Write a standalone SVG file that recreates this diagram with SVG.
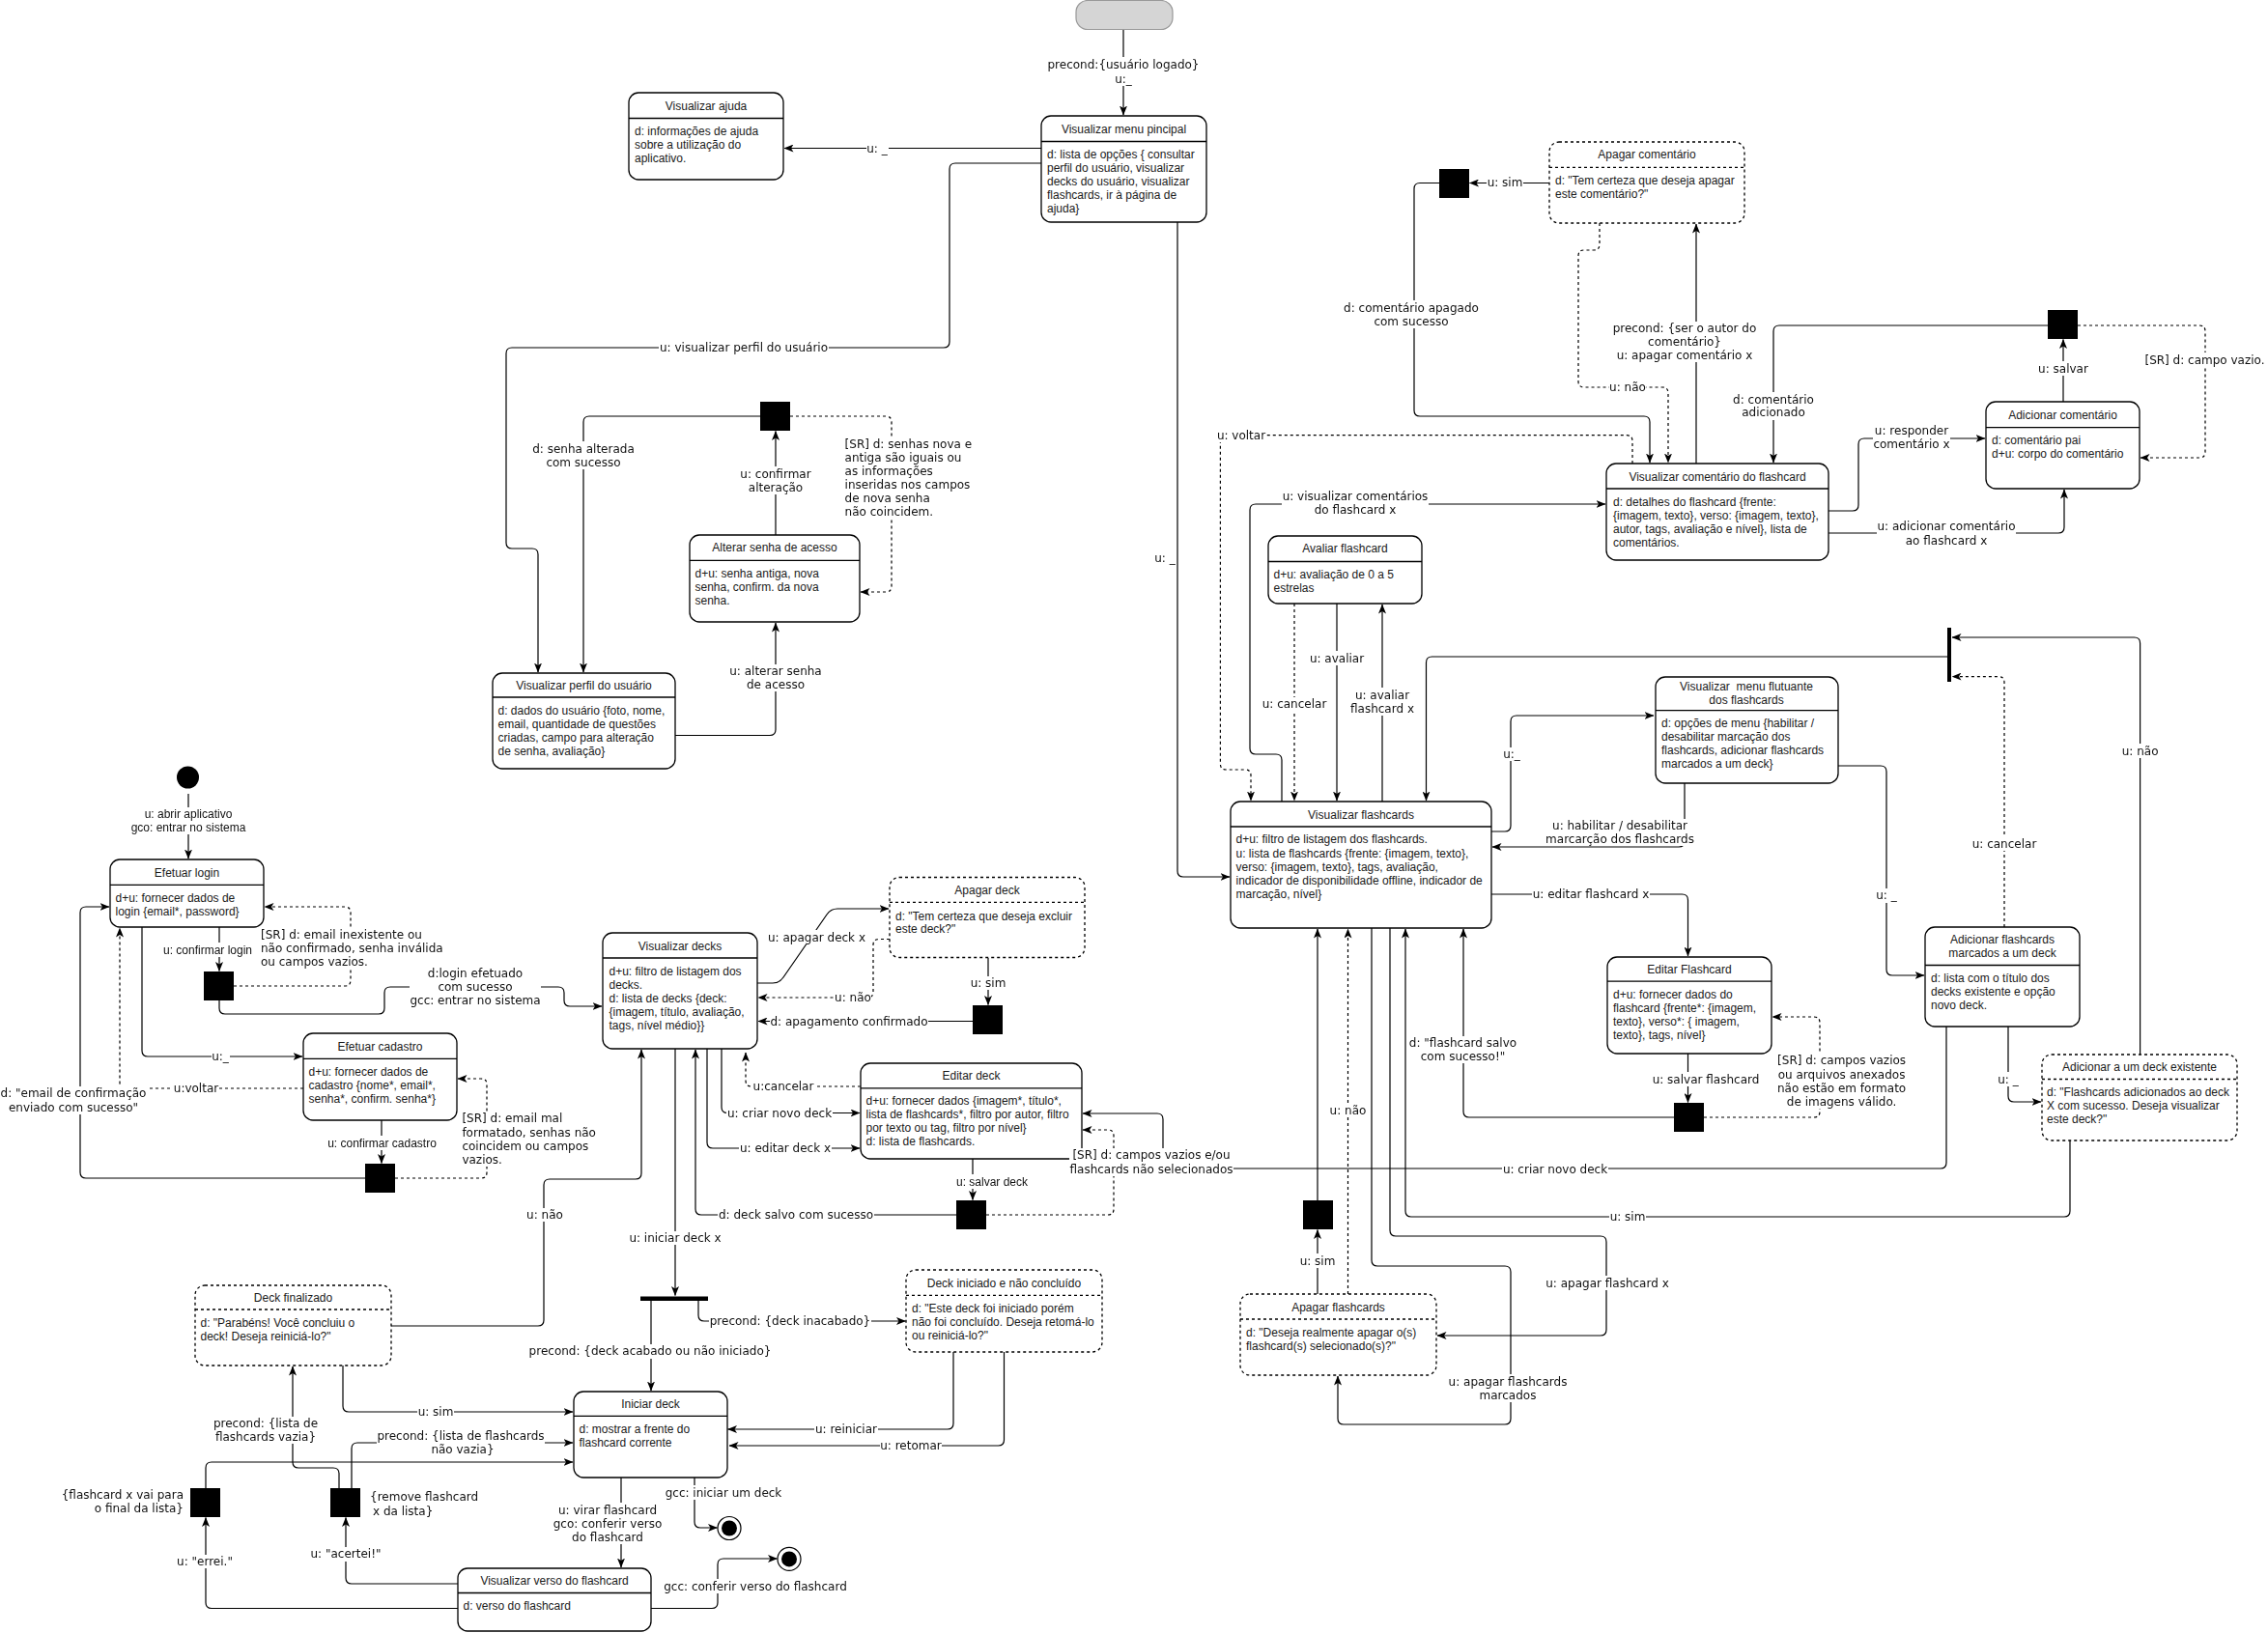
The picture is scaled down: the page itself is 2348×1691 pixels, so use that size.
<svg xmlns="http://www.w3.org/2000/svg" width="2348" height="1691" viewBox="0 0 2348 1691">
<defs>
<marker id="ar" viewBox="0 0 10 8" refX="9.5" refY="4" markerWidth="10" markerHeight="8" markerUnits="userSpaceOnUse" orient="auto"><path d="M0,0 L10,4 L0,8 L2.5,4 Z" fill="#000"/></marker>
<filter id="bg" x="0" y="0" width="1" height="1" color-interpolation-filters="sRGB"><feFlood flood-color="#fff"/><feComposite in="SourceGraphic"/></filter>
<style>
.b{fill:#fff;stroke:#000;stroke-width:1.3}
.bd{fill:#fff;stroke:#000;stroke-width:1.3;stroke-dasharray:3 3}
.h{stroke:#000;stroke-width:1.3}
.hd{stroke:#000;stroke-width:1.3;stroke-dasharray:3 3}
.tt{font-family:"Liberation Sans",Arial,sans-serif;font-size:12px;fill:#1a1a1a;text-anchor:middle;dominant-baseline:central}
.tb{font-family:"Liberation Sans",Arial,sans-serif;font-size:12px;fill:#1a1a1a;dominant-baseline:central}
.e{fill:none;stroke:#000;stroke-width:1.2;marker-end:url(#ar)}
.ed{fill:none;stroke:#000;stroke-width:1.2;stroke-dasharray:3 3;marker-end:url(#ar)}
.l{font-family:"DejaVu Sans",Verdana,sans-serif;font-size:12px;fill:#111;text-anchor:middle;dominant-baseline:central;filter:url(#bg)}
.la{font-family:"Liberation Sans",Arial,sans-serif;font-size:12px;fill:#111;text-anchor:middle;dominant-baseline:central;filter:url(#bg)}
.ls{text-anchor:start}
.le{text-anchor:end}
.sq{fill:#000}
</style>
</defs>
<rect width="2348" height="1691" fill="#fff"/>

<g id="connectors">
<path class="e" d="M1163,30 V119"/>
<path class="e" d="M1078,153.5 H812"/>
<path class="e" d="M1078,169 H989 Q983,169 983,175 V354 Q983,360 977,360 H530 Q524,360 524,366 V562 Q524,568 530,568 H551 Q557,568 557,574 V696"/>
<path class="e" d="M699,761.5 H797 Q803,761.5 803,755.5 V645"/>
<path class="e" d="M803,554 V446.5"/>
<path class="e" d="M787,431 H610 Q604,431 604,437 V696"/>
<path class="ed" d="M818,431 H917 Q923,431 923,437 V607 Q923,613 917,613 H891"/>
<path class="e" d="M195,822 V889"/>
<path class="e" d="M227,960 V1005.5"/>
<path class="ed" d="M242,1021 H357 Q363,1021 363,1015 V945 Q363,939 357,939 H274"/>
<path class="e" d="M227,1036 V1044 Q227,1050 233,1050 H392 Q398,1050 398,1044 V1028 Q398,1022 404,1022 H578 Q584,1022 584,1028 V1036 Q584,1042 590,1042 H623"/>
<path class="e" d="M147,960 V1088 Q147,1094 153,1094 H313"/>
<path class="ed" d="M314,1127 H130 Q124,1127 124,1121 V961"/>
<path class="e" d="M395,1160 V1204.5"/>
<path class="ed" d="M409,1220 H498 Q504,1220 504,1214 V1123 Q504,1117 498,1117 H474"/>
<path class="e" d="M378,1220 H89 Q83,1220 83,1214 V945 Q83,939 89,939 H113"/>
<path class="e" d="M405,1373 H557 Q563,1373 563,1367 V1227 Q563,1221 569,1221 H658 Q664,1221 664,1215 V1087"/>
<path class="e" d="M355,1414 V1456 Q355,1462 361,1462 H593"/>
<path class="e" d="M364,1541 V1500 Q364,1494 370,1494 H593"/>
<path class="e" d="M351,1541 V1526 Q351,1520 345,1520 H309 Q303,1520 303,1514 V1415"/>
<path class="e" d="M213,1541 V1520 Q213,1514 219,1514 H593"/>
<path class="e" d="M474,1665.5 H219 Q213,1665.5 213,1659.5 V1571.5"/>
<path class="e" d="M474,1640 H364 Q358,1640 358,1634 V1571.5"/>
<path class="e" d="M643,1530 V1623"/>
<path class="e" d="M719,1530 V1576 Q719,1582 725,1582 H742.5"/>
<path class="e" d="M674,1665.5 H737 Q743,1665.5 743,1659.5 V1620 Q743,1614 749,1614 H804.5"/>
<path class="e" d="M699,1086 V1341.5"/>
<path class="e" d="M674,1347 V1440"/>
<path class="e" d="M723,1347 V1362 Q723,1368 729,1368 H937.5"/>
<path class="e" d="M987,1400 V1474 Q987,1480 981,1480 H753.5"/>
<path class="e" d="M1039.5,1400 V1491 Q1039.5,1497 1033.5,1497 H755"/>
<path class="e" d="M784,1018 H800 Q807,1018 811,1012 L856,947 Q860,941 867,941 H920"/>
<path class="ed" d="M921,972.5 H910 Q904,972.5 904,978.5 V1027 Q904,1033 898,1033 H785"/>
<path class="e" d="M1023,992 V1040.5"/>
<path class="e" d="M1007,1057.5 H785"/>
<path class="e" d="M747,1086 V1146.5 Q747,1152.5 753,1152.5 H890"/>
<path class="e" d="M732,1086 V1183 Q732,1189 738,1189 H890"/>
<path class="ed" d="M891,1125 H778 Q772,1125 772,1119 V1090"/>
<path class="e" d="M1007,1200 V1242.5"/>
<path class="e" d="M990,1258 H726 Q720,1258 720,1252 V1087"/>
<path class="ed" d="M1021,1258 H1147 Q1153,1258 1153,1252 V1176 Q1153,1170 1147,1170 H1121"/>
<path class="e" d="M2015,1063 V1204 Q2015,1210 2009,1210 H1210 Q1204,1210 1204,1204 V1159 Q1204,1153 1198,1153 H1121"/>
<path class="e" d="M1219,230 V902 Q1219,908 1225,908 H1273"/>
<path class="ed" d="M1690,480 V456.7 Q1690,450.7 1684,450.7 H1269.4 Q1263.4,450.7 1263.4,456.7 V791 Q1263.4,797 1269.4,797 H1289 Q1295,797 1295,803 V829"/>
<path class="e" d="M1327,830 V787 Q1327,781 1321,781 H1300 Q1294,781 1294,775 V528 Q1294,522 1300,522 H1662"/>
<path class="ed" d="M1340,625 V829"/>
<path class="e" d="M1384,625 V829"/>
<path class="e" d="M1431,830 V626"/>
<path class="e" d="M1544,861 H1558 Q1564,861 1564,855 V747 Q1564,741 1570,741 H1712"/>
<path class="e" d="M1744,811 V871 Q1744,877 1738,877 H1545"/>
<path class="e" d="M1544,926 H1741.5 Q1747.5,926 1747.5,932 V990"/>
<path class="e" d="M1747.5,1091 V1141.5"/>
<path class="e" d="M1733,1157 H1521 Q1515,1157 1515,1151 V962"/>
<path class="ed" d="M1764,1157 H1878 Q1884,1157 1884,1151 V1059 Q1884,1053 1878,1053 H1835"/>
<path class="e" d="M1903,793 H1947 Q1953,793 1953,799 V1004 Q1953,1010 1959,1010 H1992"/>
<path class="e" d="M2016,680 H1482.5 Q1476.5,680 1476.5,686 V829"/>
<path class="e" d="M2215.6,1092 V666 Q2215.6,660 2209.6,660 H2021"/>
<path class="ed" d="M2075,960 V706.6 Q2075,700.6 2069,700.6 H2021"/>
<path class="e" d="M2079,1063 V1135 Q2079,1141 2085,1141 H2113"/>
<path class="e" d="M2143,1181 V1254 Q2143,1260 2137,1260 H1461 Q1455,1260 1455,1254 V962"/>
<path class="e" d="M1420,961 V1305 Q1420,1311 1426,1311 H1558 Q1564,1311 1564,1317 V1469 Q1564,1475 1558,1475 H1391 Q1385,1475 1385,1469 V1425"/>
<path class="e" d="M1439,961 V1274 Q1439,1280 1445,1280 H1657 Q1663,1280 1663,1286 V1377 Q1663,1383 1657,1383 H1488"/>
<path class="e" d="M1364,1340 V1273.5"/>
<path class="e" d="M1364,1243 V962"/>
<path class="ed" d="M1395.5,1340 V962"/>
<path class="e" d="M1604,189.5 H1521.5"/>
<path class="e" d="M1490,189.5 H1470 Q1464,189.5 1464,195.5 V425 Q1464,431 1470,431 H1702 Q1708,431 1708,437 V479"/>
<path class="ed" d="M1656,231 V253 Q1656,259 1650,259 H1640 Q1634,259 1634,265 V395 Q1634,401 1640,401 H1721 Q1727,401 1727,407 V479"/>
<path class="e" d="M1756,480 V232"/>
<path class="e" d="M2136,416 V351.5"/>
<path class="e" d="M2120,337 H1842 Q1836,337 1836,343 V479"/>
<path class="ed" d="M2151,337 H2277 Q2283,337 2283,343 V468 Q2283,474 2277,474 H2216"/>
<path class="e" d="M1893,529 H1918 Q1924,529 1924,523 V460 Q1924,454 1930,454 H2055"/>
<path class="e" d="M1893,552 H2131 Q2137,552 2137,546 V507"/>
</g>

<g id="n-start"><rect x="1114" y="0.5" width="100" height="30" rx="12" fill="#d5d5d5" stroke="#999" stroke-width="1.2"/></g>

<g id="n-menu"><rect class="b" x="1078" y="120" width="171" height="110" rx="10"/><line class="h" x1="1078" y1="146.5" x2="1249" y2="146.5"/><text class="tt" x="1163.5" y="133.5">Visualizar menu pincipal</text><text class="tb"><tspan x="1084" y="160">d: lista de opções { consultar</tspan><tspan x="1084" y="174">perfil do usuário, visualizar</tspan><tspan x="1084" y="188">decks do usuário, visualizar</tspan><tspan x="1084" y="202">flashcards, ir à página de</tspan><tspan x="1084" y="216">ajuda}</tspan></text></g>

<g id="n-ajuda"><rect class="b" x="651" y="96" width="160" height="90" rx="10"/><line class="h" x1="651" y1="122.5" x2="811" y2="122.5"/><text class="tt" x="731" y="109.5">Visualizar ajuda</text><text class="tb"><tspan x="657" y="135.5">d: informações de ajuda</tspan><tspan x="657" y="149.5">sobre a utilização do</tspan><tspan x="657" y="163.5">aplicativo.</tspan></text></g>

<g id="n-perfil"><rect class="b" x="510" y="697" width="189" height="99" rx="10"/><line class="h" x1="510" y1="722" x2="699" y2="722"/><text class="tt" x="604.5" y="709.8">Visualizar perfil do usuário</text><text class="tb"><tspan x="515.5" y="735.7">d: dados do usuário {foto, nome,</tspan><tspan x="515.5" y="749.8">email, quantidade de questões</tspan><tspan x="515.5" y="763.8">criadas, campo para alteração</tspan><tspan x="515.5" y="777.9">de senha, avaliação}</tspan></text></g>

<g id="n-alterar-senha"><rect class="b" x="714" y="554" width="176" height="90" rx="10"/><line class="h" x1="714" y1="580.3" x2="890" y2="580.3"/><text class="tt" x="802" y="567">Alterar senha de acesso</text><text class="tb"><tspan x="719.5" y="594">d+u: senha antiga, nova</tspan><tspan x="719.5" y="608">senha, confirm. da nova</tspan><tspan x="719.5" y="622">senha.</tspan></text></g>

<g id="s-senha"><rect class="sq" x="787" y="416" width="31" height="30"/></g>

<g id="n-inicial"><circle cx="194.5" cy="805" r="11.5" fill="#000"/></g>

<g id="n-login"><rect class="b" x="114" y="890" width="159" height="70" rx="10"/><line class="h" x1="114" y1="916.3" x2="273" y2="916.3"/><text class="tt" x="193.5" y="903.7">Efetuar login</text><text class="tb"><tspan x="119.5" y="930">d+u: fornecer dados de</tspan><tspan x="119.5" y="944">login {email*, password}</tspan></text></g>

<g id="s-login"><rect class="sq" x="211" y="1006" width="31" height="30"/></g>

<g id="n-cadastro"><rect class="b" x="314" y="1070" width="159" height="90" rx="10"/><line class="h" x1="314" y1="1096.4" x2="473" y2="1096.4"/><text class="tt" x="393.5" y="1083.9">Efetuar cadastro</text><text class="tb"><tspan x="319.5" y="1110">d+u: fornecer dados de</tspan><tspan x="319.5" y="1124">cadastro {nome*, email*,</tspan><tspan x="319.5" y="1138">senha*, confirm. senha*}</tspan></text></g>

<g id="s-cadastro"><rect class="sq" x="378" y="1205" width="31" height="30"/></g>

<g id="n-decks"><rect class="b" x="624" y="966" width="160" height="120" rx="10"/><line class="h" x1="624" y1="992" x2="784" y2="992"/><text class="tt" x="704" y="979.5">Visualizar decks</text><text class="tb"><tspan x="630.5" y="1005.8">d+u: filtro de listagem dos</tspan><tspan x="630.5" y="1019.9">decks.</tspan><tspan x="630.5" y="1034">d: lista de decks {deck:</tspan><tspan x="630.5" y="1048">{imagem, título, avaliação,</tspan><tspan x="630.5" y="1062">tags, nível médio}}</tspan></text></g>

<g id="n-apagar-deck"><rect class="bd" x="921" y="908.5" width="202" height="83" rx="10"/><line class="hd" x1="921" y1="934.4" x2="1123" y2="934.4"/><text class="tt" x="1022" y="921.8">Apagar deck</text><text class="tb"><tspan x="927" y="948.5">d: "Tem certeza que deseja excluir</tspan><tspan x="927" y="962.2">este deck?"</tspan></text></g>

<g id="s-apagar-deck"><rect class="sq" x="1007" y="1041" width="31" height="30"/></g>

<g id="n-editar-deck"><rect class="b" x="891" y="1101" width="229" height="99" rx="10"/><line class="h" x1="891" y1="1126.8" x2="1120" y2="1126.8"/><text class="tt" x="1005.5" y="1113.8">Editar deck</text><text class="tb"><tspan x="896.5" y="1139.7">d+u: fornecer dados {imagem*, título*,</tspan><tspan x="896.5" y="1154">lista de flashcards*, filtro por autor, filtro</tspan><tspan x="896.5" y="1168">por texto ou tag, filtro por nível}</tspan><tspan x="896.5" y="1182">d: lista de flashcards.</tspan></text></g>

<g id="s-editar-deck"><rect class="sq" x="990" y="1243" width="31" height="30"/></g>

<g id="fork-deck"><rect class="sq" x="663" y="1342.5" width="70" height="4.5"/></g>

<g id="n-deck-finalizado"><rect class="bd" x="202" y="1331" width="203" height="83" rx="10"/><line class="hd" x1="202" y1="1356" x2="405" y2="1356"/><text class="tt" x="303.5" y="1344">Deck finalizado</text><text class="tb"><tspan x="207.5" y="1369.7">d: "Parabéns! Você concluiu o</tspan><tspan x="207.5" y="1384">deck! Deseja reiniciá-lo?"</tspan></text></g>

<g id="n-iniciar-deck"><rect class="b" x="594" y="1441" width="159" height="89" rx="10"/><line class="h" x1="594" y1="1466.3" x2="753" y2="1466.3"/><text class="tt" x="673.5" y="1453.8">Iniciar deck</text><text class="tb"><tspan x="599.5" y="1480">d: mostrar a frente do</tspan><tspan x="599.5" y="1493.5">flashcard corrente</tspan></text></g>

<g id="n-deck-iniciado"><rect class="bd" x="938" y="1315" width="203" height="85" rx="10"/><line class="hd" x1="938" y1="1341.4" x2="1141" y2="1341.4"/><text class="tt" x="1039.5" y="1328.6">Deck iniciado e não concluído</text><text class="tb"><tspan x="944" y="1354.7">d: "Este deck foi iniciado porém</tspan><tspan x="944" y="1368.6">não foi concluído. Deseja retomá-lo</tspan><tspan x="944" y="1382.6">ou reiniciá-lo?"</tspan></text></g>

<g id="n-verso"><rect class="b" x="474" y="1624" width="200" height="65" rx="10"/><line class="h" x1="474" y1="1649.5" x2="674" y2="1649.5"/><text class="tt" x="574" y="1636.6">Visualizar verso do flashcard</text><text class="tb"><tspan x="479.5" y="1663">d: verso do flashcard</tspan></text></g>

<g id="s-errei"><rect class="sq" x="197" y="1541" width="31" height="30"/></g>
<g id="s-acertei"><rect class="sq" x="342" y="1541" width="31" height="30"/></g>

<g id="n-final-1"><circle cx="755" cy="1582.5" r="12" fill="#fff" stroke="#000" stroke-width="1.2"/><circle cx="755" cy="1582.5" r="8" fill="#000"/></g>
<g id="n-final-2"><circle cx="817" cy="1614.4" r="12" fill="#fff" stroke="#000" stroke-width="1.2"/><circle cx="817" cy="1614.4" r="8" fill="#000"/></g>

<g id="n-flashcards"><rect class="b" x="1274" y="830" width="270" height="131" rx="10"/><line class="h" x1="1274" y1="856" x2="1544" y2="856"/><text class="tt" x="1409" y="843.8">Visualizar flashcards</text><text class="tb"><tspan x="1279.5" y="869.3">d+u: filtro de listagem dos flashcards.</tspan><tspan x="1279.5" y="883.7">u: lista de flashcards {frente: {imagem, texto},</tspan><tspan x="1279.5" y="898">verso: {imagem, texto}, tags, avaliação,</tspan><tspan x="1279.5" y="912">indicador de disponibilidade offline, indicador de</tspan><tspan x="1279.5" y="926.3">marcação, nível}</tspan></text></g>

<g id="n-avaliar"><rect class="b" x="1313" y="555" width="159" height="70" rx="10"/><line class="h" x1="1313" y1="581.5" x2="1472" y2="581.5"/><text class="tt" x="1392.5" y="568.1">Avaliar flashcard</text><text class="tb"><tspan x="1318.5" y="594.8">d+u: avaliação de 0 a 5</tspan><tspan x="1318.5" y="608.5">estrelas</tspan></text></g>

<g id="n-comentario"><rect class="b" x="1663" y="480" width="230" height="100" rx="10"/><line class="h" x1="1663" y1="506" x2="1893" y2="506"/><text class="tt" x="1778" y="493.6">Visualizar comentário do flashcard</text><text class="tb"><tspan x="1670" y="519.8">d: detalhes do flashcard {frente:</tspan><tspan x="1670" y="534">{imagem, texto}, verso: {imagem, texto},</tspan><tspan x="1670" y="548">autor, tags, avaliação e nível}, lista de</tspan><tspan x="1670" y="562">comentários.</tspan></text></g>

<g id="n-apagar-comentario"><rect class="bd" x="1604" y="147" width="202" height="84" rx="10"/><line class="hd" x1="1604" y1="173.4" x2="1806" y2="173.4"/><text class="tt" x="1705" y="160.3">Apagar comentário</text><text class="tb"><tspan x="1610" y="187.2">d: "Tem certeza que deseja apagar</tspan><tspan x="1610" y="201">este comentário?"</tspan></text></g>

<g id="s-apagar-comentario"><rect class="sq" x="1490" y="175" width="31" height="30"/></g>

<g id="n-adicionar-comentario"><rect class="b" x="2056" y="416" width="159" height="90" rx="10"/><line class="h" x1="2056" y1="442.7" x2="2215" y2="442.7"/><text class="tt" x="2135.5" y="430">Adicionar comentário</text><text class="tb"><tspan x="2062" y="455.8">d: comentário pai</tspan><tspan x="2062" y="469.7">d+u: corpo do comentário</tspan></text></g>

<g id="s-adicionar-comentario"><rect class="sq" x="2120" y="321" width="31" height="30"/></g>

<g id="n-menu-flutuante"><rect class="b" x="1714" y="701" width="189" height="110" rx="10"/><line class="h" x1="1714" y1="735.7" x2="1903" y2="735.7"/><text class="tt" xml:space="preserve"><tspan x="1808" y="711">Visualizar  menu flutuante</tspan><tspan x="1808" y="724.6">dos flashcards</tspan></text><text class="tb"><tspan x="1720" y="749">d: opções de menu {habilitar /</tspan><tspan x="1720" y="762.7">desabilitar marcação dos</tspan><tspan x="1720" y="776.8">flashcards, adicionar flashcards</tspan><tspan x="1720" y="790.5">marcados a um deck}</tspan></text></g>

<g id="n-editar-flashcard"><rect class="b" x="1664" y="991" width="170" height="100" rx="10"/><line class="h" x1="1664" y1="1016.2" x2="1834" y2="1016.2"/><text class="tt" x="1749" y="1004">Editar Flashcard</text><text class="tb"><tspan x="1670" y="1029.8">d+u: fornecer dados do</tspan><tspan x="1670" y="1044">flashcard {frente*: {imagem,</tspan><tspan x="1670" y="1057.6">texto}, verso*: { imagem,</tspan><tspan x="1670" y="1071.7">texto}, tags, nível}</tspan></text></g>

<g id="s-editar-flashcard"><rect class="sq" x="1733" y="1142" width="31" height="30"/></g>

<g id="n-adicionar-marcados"><rect class="b" x="1993" y="960" width="160" height="103" rx="10"/><line class="h" x1="1993" y1="999.5" x2="2153" y2="999.5"/><text class="tt"><tspan x="2073" y="972.5">Adicionar flashcards</tspan><tspan x="2073" y="986.6">marcados a um deck</tspan></text><text class="tb"><tspan x="1999" y="1012.8">d: lista com o título dos</tspan><tspan x="1999" y="1027">decks existente e opção</tspan><tspan x="1999" y="1041">novo deck.</tspan></text></g>

<g id="fork-flashcards"><rect class="sq" x="2016" y="650" width="4" height="56"/></g>

<g id="n-adicionar-deck-existente"><rect class="bd" x="2114" y="1092" width="202" height="89" rx="10"/><line class="hd" x1="2114" y1="1117.5" x2="2316" y2="1117.5"/><text class="tt" x="2215" y="1104.6">Adicionar a um deck existente</text><text class="tb"><tspan x="2119" y="1130.8">d: "Flashcards adicionados ao deck</tspan><tspan x="2119" y="1145">X com sucesso. Deseja visualizar</tspan><tspan x="2119" y="1158.6">este deck?"</tspan></text></g>

<g id="n-apagar-flashcards"><rect class="bd" x="1284" y="1340" width="203" height="84" rx="10"/><line class="hd" x1="1284" y1="1366" x2="1487" y2="1366"/><text class="tt" x="1385.5" y="1353.6">Apagar flashcards</text><text class="tb"><tspan x="1290" y="1379.7">d: "Deseja realmente apagar o(s)</tspan><tspan x="1290" y="1394">flashcard(s) selecionado(s)?"</tspan></text></g>

<g id="s-apagar-flashcards"><rect class="sq" x="1349" y="1243" width="31" height="30"/></g>

<g id="connector-labels">
<text class="l"><tspan x="1163" y="66.5">precond:{usuário logado}</tspan><tspan x="1163" y="81.5">u:_</tspan></text>
<text class="l" x="908" y="153.5">u: _</text>
<text class="l" x="770" y="360">u: visualizar perfil do usuário</text>
<text class="l"><tspan x="803" y="695">u: alterar senha</tspan><tspan x="803" y="709">de acesso</tspan></text>
<text class="l"><tspan x="803" y="490.7">u: confirmar</tspan><tspan x="803" y="504.5">alteração</tspan></text>
<text class="l"><tspan x="604" y="464.5">d: senha alterada</tspan><tspan x="604" y="478.7">com sucesso</tspan></text>
<text class="l ls"><tspan x="874.6" y="459.8">[SR] d: senhas nova e</tspan><tspan x="874.6" y="474">antiga são iguais ou</tspan><tspan x="874.6" y="487.8">as informações</tspan><tspan x="874.6" y="501.6">inseridas nos campos</tspan><tspan x="874.6" y="515.5">de nova senha</tspan><tspan x="874.6" y="529.6">não coincidem.</tspan></text>
<text class="la"><tspan x="195" y="843">u: abrir aplicativo</tspan><tspan x="195" y="857">gco: entrar no sistema</tspan></text>
<text class="la" x="215" y="983.6">u: confirmar login</text>
<text class="l ls"><tspan x="270" y="967.7">[SR] d: email inexistente ou</tspan><tspan x="270" y="982">não confirmado, senha inválida</tspan><tspan x="270" y="996">ou campos vazios.</tspan></text>
<text class="l"><tspan x="492" y="1007.6">d:login efetuado</tspan><tspan x="492" y="1021.7">com sucesso</tspan><tspan x="492" y="1035.8">gcc: entrar no sistema</tspan></text>
<text class="l" x="228" y="1094">u:_</text>
<text class="l" x="203" y="1127">u:voltar</text>
<text class="la" x="395.5" y="1183.7">u: confirmar cadastro</text>
<text class="l ls"><tspan x="478.4" y="1158.3">[SR] d: email mal</tspan><tspan x="478.4" y="1172.6">formatado, senhas não</tspan><tspan x="478.4" y="1186.5">coincidem ou campos</tspan><tspan x="478.4" y="1200.8">vazios.</tspan></text>
<text class="l"><tspan x="76" y="1132">d: "email de confirmação</tspan><tspan x="76" y="1147">enviado com sucesso"</tspan></text>
<text class="l" x="564" y="1258">u: não</text>
<text class="l" x="451" y="1462">u: sim</text>
<text class="l"><tspan x="477" y="1486.7">precond: {lista de flashcards</tspan><tspan x="479" y="1500.7">não vazia}</tspan></text>
<text class="l"><tspan x="275" y="1474">precond: {lista de</tspan><tspan x="275" y="1488">flashcards vazia}</tspan></text>
<text class="l le"><tspan x="190" y="1548">{flashcard x vai para</tspan><tspan x="190" y="1562">o final da lista}</tspan></text>
<text class="l ls"><tspan x="383" y="1550.4">{remove flashcard</tspan><tspan x="386" y="1564.7">x da lista}</tspan></text>
<text class="l" x="212" y="1617">u: "errei."</text>
<text class="l" x="358" y="1609.4">u: "acertei!"</text>
<text class="l"><tspan x="629" y="1563.6">u: virar flashcard</tspan><tspan x="629" y="1577.6">gco: conferir verso</tspan><tspan x="629" y="1591.5">do flashcard</tspan></text>
<text class="l" x="749" y="1545.7">gcc: iniciar um deck</text>
<text class="l" x="782" y="1642.7">gcc: conferir verso do flashcard</text>
<text class="l" x="699" y="1282">u: iniciar deck x</text>
<text class="l" x="673" y="1399.4">precond: {deck acabado ou não iniciado}</text>
<text class="l" x="818" y="1368">precond: {deck inacabado}</text>
<text class="l" x="876" y="1480">u: reiniciar</text>
<text class="l" x="943" y="1497">u: retomar</text>
<text class="l" x="845.5" y="970.7">u: apagar deck x</text>
<text class="l" x="883" y="1033">u: não</text>
<text class="l" x="1023" y="1018">u: sim</text>
<text class="l" x="879" y="1057.6">d: apagamento confirmado</text>
<text class="l" x="807" y="1152.5">u: criar novo deck</text>
<text class="l" x="813" y="1189">u: editar deck x</text>
<text class="l" x="811" y="1125">u:cancelar</text>
<text class="la" x="1027" y="1223.7">u: salvar deck</text>
<text class="l" x="824" y="1258">d: deck salvo com sucesso</text>
<text class="l"><tspan x="1192" y="1196.3">[SR] d: campos vazios e/ou</tspan><tspan x="1192" y="1210.7">flashcards não selecionados</tspan></text>
<text class="l" x="1610" y="1211">u: criar novo deck</text>
<text class="l" x="1206" y="578">u: _</text>
<text class="l" x="1285" y="451">u: voltar</text>
<text class="l"><tspan x="1403" y="514.4">u: visualizar comentários</tspan><tspan x="1403" y="528.2">do flashcard x</tspan></text>
<text class="l" x="1340" y="729.4">u: cancelar</text>
<text class="l" x="1384" y="681.7">u: avaliar</text>
<text class="l"><tspan x="1431" y="719.8">u: avaliar</tspan><tspan x="1431" y="733.5">flashcard x</tspan></text>
<text class="l" x="1565" y="781">u:_</text>
<text class="l"><tspan x="1677" y="855">u: habilitar / desabilitar</tspan><tspan x="1677" y="868.5">marcarção dos flashcards</tspan></text>
<text class="l" x="1647" y="926">u: editar flashcard x</text>
<text class="l" x="1766" y="1117.5">u: salvar flashcard</text>
<text class="l"><tspan x="1514.5" y="1080">d: "flashcard salvo</tspan><tspan x="1514.5" y="1094">com sucesso!"</tspan></text>
<text class="l"><tspan x="1906.6" y="1098.3">[SR] d: campos vazios</tspan><tspan x="1906.6" y="1112.7">ou arquivos anexados</tspan><tspan x="1906.6" y="1126.8">não estão em formato</tspan><tspan x="1906.6" y="1140.7">de imagens válido.</tspan></text>
<text class="l" x="1953" y="927.4">u: _</text>
<text class="l" x="2215.6" y="777.5">u: não</text>
<text class="l" x="2075" y="873.7">u: cancelar</text>
<text class="l" x="2079" y="1117.5">u: _</text>
<text class="l" x="1685" y="1260">u: sim</text>
<text class="l"><tspan x="1561" y="1430.5">u: apagar flashcards</tspan><tspan x="1561" y="1444.8">marcados</tspan></text>
<text class="l" x="1664" y="1328.6">u: apagar flashcard x</text>
<text class="l" x="1364" y="1305.7">u: sim</text>
<text class="l" x="1395.5" y="1150">u: não</text>
<text class="l" x="1558" y="189.4">u: sim</text>
<text class="l"><tspan x="1461" y="318.8">d: comentário apagado</tspan><tspan x="1461" y="332.6">com sucesso</tspan></text>
<text class="l" x="1685" y="401">u: não</text>
<text class="l"><tspan x="1744" y="340">precond: {ser o autor do</tspan><tspan x="1744" y="353.7">comentário}</tspan><tspan x="1744" y="368">u: apagar comentário x</tspan></text>
<text class="l" x="2136" y="381.7">u: salvar</text>
<text class="l"><tspan x="1836" y="413.7">d: comentário</tspan><tspan x="1836" y="427.1">adicionado</tspan></text>
<text class="l" x="2282.5" y="372.6">[SR] d: campo vazio.</text>
<text class="l"><tspan x="1979" y="446.4">u: responder</tspan><tspan x="1979" y="460.2">comentário x</tspan></text>
<text class="l"><tspan x="2015" y="545.3">u: adicionar comentário</tspan><tspan x="2015" y="559.8">ao flashcard x</tspan></text>
</g>
</svg>
